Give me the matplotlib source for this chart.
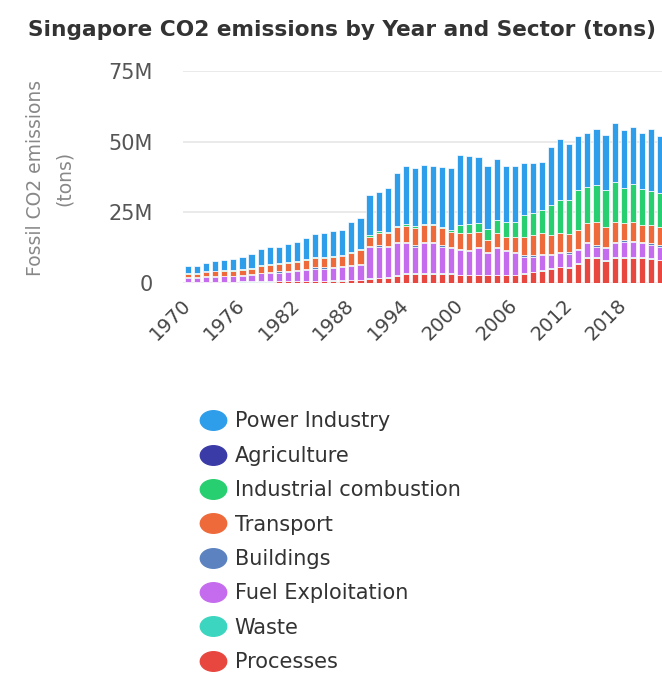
import numpy as np
import matplotlib
matplotlib.use("Agg")
import matplotlib.pyplot as plt
from matplotlib.path import Path
from matplotlib.transforms import Affine2D
from matplotlib.lines import Line2D

# Data (million tons)
years = list(range(1970, 2023))
processes = [0.3, 0.3, 0.35, 0.4, 0.4, 0.4, 0.45, 0.45, 0.5, 0.5,
             0.6, 0.6, 0.6, 0.7, 0.7, 0.7, 0.8, 0.8, 0.9, 1.0,
             1.5, 1.6, 1.8, 2.5, 3.3, 3.3, 3.3, 3.3, 3.3, 3.3,
             2.8, 2.8, 2.8, 2.8, 2.8, 2.8, 2.8, 3.3, 3.8, 4.4,
             5.0, 5.6, 5.4, 6.8, 9.0, 9.0, 7.9, 9.0, 9.0, 9.0,
             9.0, 8.5, 8.0]
waste = [0.1] * 20 + [0.2] * 33
fuel_exploitation = [1.3, 1.3, 1.6, 1.7, 1.8, 1.8, 2.0, 2.2, 2.8, 3.0,
                     3.0, 3.3, 3.5, 3.9, 4.3, 4.3, 4.5, 4.6, 4.9, 5.2,
                     11.0, 11.0, 10.6, 11.3, 10.5, 9.3, 10.5, 10.5, 9.3, 8.8,
                     8.7, 8.2, 9.3, 7.5, 9.3, 8.2, 7.5, 5.8, 5.3, 5.3,
                     4.7, 4.7, 4.8, 4.7, 4.8, 3.6, 4.2, 4.8, 5.4, 5.2,
                     4.8, 4.9, 4.6]
buildings = [0.3] * 10 + [0.4] * 10 + [0.5] * 33
transport = [1.3, 1.3, 1.5, 1.6, 1.7, 1.7, 1.9, 2.0, 2.3, 2.5,
             2.5, 2.7, 2.8, 3.0, 3.3, 3.4, 3.5, 3.5, 4.3, 5.0,
             3.2, 4.5, 4.5, 5.2, 5.8, 6.2, 6.0, 5.9, 6.0, 5.3,
             5.4, 5.9, 5.3, 4.2, 4.8, 4.7, 5.4, 6.6, 7.2, 7.2,
             6.6, 6.6, 6.6, 6.5, 6.6, 8.4, 7.1, 7.2, 6.0, 6.6,
             5.9, 6.3, 6.4]
industrial = [0.2] * 10 + [0.3] * 10 + [0.5] * 10 + \
             [3.0, 3.3, 3.0, 4.0, 4.7, 5.3, 5.3, 7.6, 7.6, 8.2,
              10.6, 11.7, 11.7, 14.2, 12.9, 12.9, 13.0, 14.1, 12.4, 13.5,
              13.0, 12.2, 12.2]
agriculture = [0.03] * 53
power = [2.4, 2.5, 3.0, 3.4, 3.7, 3.8, 4.3, 4.9, 5.8, 6.2,
         5.7, 6.2, 6.6, 7.4, 8.1, 8.5, 8.7, 9.0, 10.8, 10.8,
         14.1, 14.0, 15.5, 18.6, 20.4, 20.8, 20.7, 20.5, 21.1, 21.9,
         24.6, 24.1, 23.5, 22.3, 21.4, 19.6, 19.6, 18.5, 17.7, 17.1,
         20.6, 21.5, 20.1, 19.1, 19.1, 19.7, 19.5, 20.7, 20.6, 20.0,
         19.7, 21.9, 20.2]

# stacking order bottom -> top
sectors = ["Processes", "Waste", "Fuel Exploitation", "Buildings",
           "Transport", "Industrial combustion", "Agriculture", "Power Industry"]
series = [processes, waste, fuel_exploitation, buildings,
          transport, industrial, agriculture, power]
colors = ["#E8473F", "#3CD6C0", "#C56CEE", "#5C82C0",
          "#EF6A3A", "#27CF70", "#3B3BA8", "#2E9DEA"]

yticks = [0, 25, 50, 75]
yticklabels = ["0", "25M", "50M", "75M"]
xtick_years = list(range(1970, 2019, 6))

fig = plt.figure(figsize=(6.62, 6.73), dpi=100)
ax = fig.add_axes([183 / 662, (673 - 283) / 673, (662 - 183) / 662, (283 - 71) / 673])

x = np.arange(len(years))
bottom = np.zeros(len(years))
for vals, col in zip(series, colors):
    ax.bar(x, vals, width=0.68, bottom=bottom, color=col,
           edgecolor="white", linewidth=0.5, zorder=3)
    bottom += np.array(vals)

ax.set_xlim(-0.55, 52.22)
ax.set_ylim(0, 75)
ax.set_yticks(yticks)
ax.set_yticklabels(yticklabels)
ax.yaxis.grid(True, color="#e6e6e6", linewidth=1.2, zorder=0)
ax.set_axisbelow(True)
ax.tick_params(axis="y", length=0, pad=22, labelsize=15, labelcolor="#555555")

ax.set_xticks([years.index(y) for y in xtick_years])
ax.set_xticklabels([str(y) for y in xtick_years], rotation=45, ha="right",
                   rotation_mode="anchor", va="center")
ax.tick_params(axis="x", length=0, pad=14, labelsize=14, labelcolor="#444444")
for s in ax.spines.values():
    s.set_visible(False)

fig.text(28 / 662, (673 - 30) / 673, "Singapore CO2 emissions by Year and Sector (tons)",
         fontsize=15.6, fontweight="bold", color="#333333", va="center", ha="left")

fig.text(50 / 662, (673 - 178) / 673, "Fossil CO2 emissions\n(tons)", rotation=90,
         fontsize=13.5, color="#888888", ha="center", va="center",
         multialignment="center", linespacing=1.6)

# legend with slightly wide oval markers
oval = Path.unit_circle().transformed(Affine2D().scale(1.35, 1.0))
handles = [Line2D([], [], marker=oval, linestyle="", markersize=19,
                  markerfacecolor=c, markeredgecolor=c)
           for c in colors[::-1]]
leg = fig.legend(handles, sectors[::-1], loc="upper left",
                 bbox_to_anchor=(190 / 662, (673 - 401) / 673),
                 frameon=False, fontsize=15, labelspacing=0.69,
                 handlelength=1.2, handletextpad=0.45, borderpad=0)
for t in leg.get_texts():
    t.set_color("#333333")

fig.savefig("out.png", dpi=100, facecolor="white")
